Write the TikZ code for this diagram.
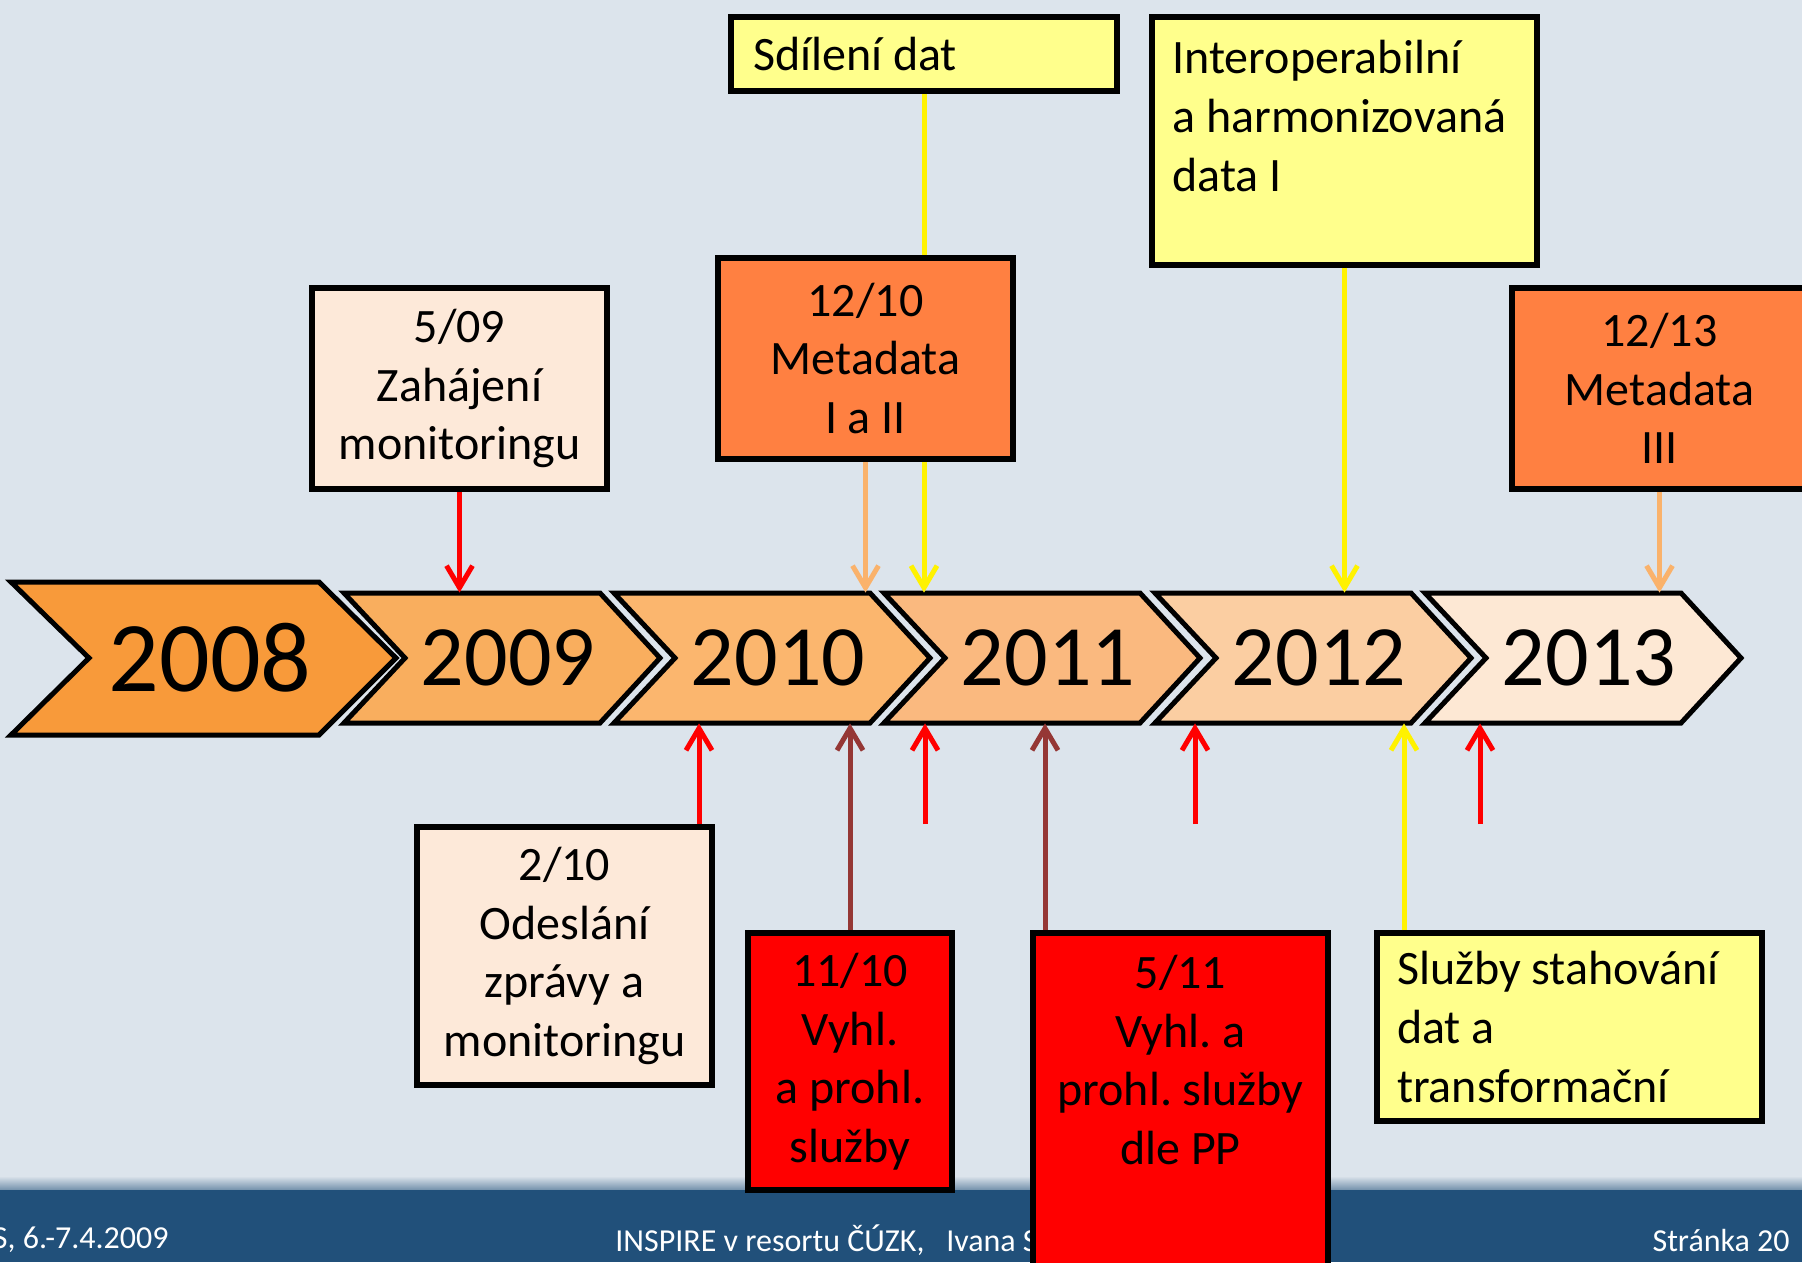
\documentclass[tikz,border=0pt]{standalone}
\usepackage{fontspec}
\setmainfont{Carlito}
\usetikzlibrary{arrows.meta,calc}
\frenchspacing
\definecolor{bgcol}{HTML}{DCE4EC}
\definecolor{bandcol}{HTML}{21507A}
\definecolor{ch08}{HTML}{F89A3A}
\definecolor{ch09}{HTML}{F9AE5E}
\definecolor{ch10}{HTML}{FBB66E}
\definecolor{ch11}{HTML}{FAB97F}
\definecolor{ch12}{HTML}{FBCEA2}
\definecolor{ch13}{HTML}{FDE8D4}
\definecolor{ylw}{HTML}{FFFF8C}
\definecolor{peach}{HTML}{FDE9D9}
\definecolor{orng}{HTML}{FF8041}
\definecolor{brwn}{HTML}{953735}
\definecolor{lorng}{HTML}{FAB26B}
\begin{document}
\begin{tikzpicture}[x=0.5pt,y=-0.5pt,
    chev/.style={draw,line width=2.5pt,line join=miter},
    yr/.style={inner sep=0pt,font=\fontsize{43}{50}\selectfont},
    box/.style={draw,line width=3pt,inner sep=0pt,align=center,font=\fontsize{24}{29.3}\selectfont,
        execute at begin node={\spaceskip=0pt\relax\xspaceskip=0pt\relax}},
    txt/.style={inner sep=0pt,align=left,font=\fontsize{24}{29.3}\selectfont,
        execute at begin node={\spaceskip=0pt\relax\xspaceskip=0pt\relax}},
    foot/.style={inner sep=0pt,text=white,font=\fontsize{16}{19}\selectfont},
    con/.style={line width=2.5pt,-{Straight Barb[length=11pt,width=13pt]}}]
    \useasboundingbox (0,0) rectangle (1802,1262);
    %% Background
    \fill[bgcol] (0,0) rectangle (1802,1187);
    \fill[bandcol] (0,1187) rectangle (1802,1262);
    \shade[top color=bgcol,bottom color=bandcol!60] (0,1176) rectangle (1802,1189);
    \node[foot,anchor=east] (fdate) at (169,1240) {S, 6.-7.4.2009};
    \node[foot,anchor=west] (ftitle) at (615,1240) {INSPIRE v resortu ČÚZK,\ \ \ Ivana S};
    \node[foot,anchor=east] (fpage) at (1790,1240) {Stránka 20};
    %% Years
    \draw[chev,fill=ch08] (11,582) -- ++(308,0) -- ++(77,76) -- ++(-77,77) -- ++(-308,0) -- ++(78,-77) -- cycle;
    \node[yr,font=\fontsize{50}{58}\selectfont] (y2008) at (210,658) {2008};
    \foreach \yy/\x/\col in {2009/344/ch09,2010/614/ch10,2011/884/ch11,2012/1155/ch12,2013/1425/ch13}{
        \draw[chev,fill=\col] (\x,593) -- ++(256,0) -- ++(60,65) -- ++(-60,65) -- ++(-256,0) -- ++(61,-65) -- cycle;
        \node[yr,minimum width=128pt,minimum height=65pt] (y\yy) at (\x+164,658) {\yy};
    }
    %% Boxes above
    \node[box,fill=ylw,minimum width=193pt,minimum height=37pt,text width=171pt,align=left] (sdil) at (924,54) {Sdílení dat};
    \draw[con,yellow] (sdil.south) -- (sdil.south |- y2011.north);
    \node[box,fill=ylw,minimum width=192.5pt,minimum height=124pt] (inter) at (1344.5,141) {};
    \node[txt,anchor=west] (tinter) at (1172,116) {Interoperabilní\\a harmonizovaná\\data I};
    \node[box,fill=peach,minimum width=147.5pt,minimum height=100.5pt] (b509) at (459.5,388.5) {5/09\\Zahájení\\monitoringu};
    \node[box,fill=orng,minimum width=147.5pt,minimum height=100.5pt] (b1210) at (865.5,358.5) {12/10\\Metadata\\I a II};
    \node[box,fill=orng,minimum width=147.5pt,minimum height=100.5pt] (b1213) at (1659.5,388.5) {12/13\\Metadata\\III};
    %% Boxes below
    \node[box,fill=peach,minimum width=147.5pt,minimum height=129pt] (b210) at (564.5,956) {2/10\\Odeslání\\zprávy a\\monitoringu};
    \node[box,fill=red,minimum width=102pt,minimum height=128.5pt] (b1110) at (850,1061.5) {11/10\\Vyhl.\\a prohl.\\služby};
    \node[box,fill=red,minimum width=147.5pt,minimum height=172pt] (b511) at (1180.5,1105) {};
    \node[txt,align=center] (t511) at (1180.5,1060) {5/11\\Vyhl. a\\prohl. služby\\dle PP};
    \node[box,fill=ylw,minimum width=192.5pt,minimum height=94pt,text width=172.5pt,align=left] (sluz) at (1569.5,1027) {Služby stahování\\dat a\\transformační};
    %% Arrows down
    \draw[con,red] (b509.south) -- (b509.south |- y2009.north);
    \draw[con,lorng] (b1210.south) -- (b1210.south |- y2010.north);
    \draw[con,yellow] (inter.south) -- (inter.south |- y2012.north);
    \draw[con,lorng] (b1213.south) -- (b1213.south |- y2013.north);
    %% Arrows up
    \coordinate (p210) at ($(b210.north east)+(-16,0)$);
    \coordinate (p511) at ($(b511.north west)+(15,0)$);
    \coordinate (psluz) at ($(sluz.north west)+(30,0)$);
    \coordinate (r11) at (925,824);
    \coordinate (r12) at (1195,824);
    \coordinate (r13) at (1480,824);
    \draw[con,red] (p210) -- (p210 |- y2010.south);
    \draw[con,brwn] (b1110.north) -- (b1110.north |- y2010.south);
    \draw[con,red] (r11) -- (r11 |- y2011.south);
    \draw[con,brwn] (p511) -- (p511 |- y2011.south);
    \draw[con,red] (r12) -- (r12 |- y2012.south);
    \draw[con,yellow] (psluz) -- (psluz |- y2012.south);
    \draw[con,red] (r13) -- (r13 |- y2013.south);
\end{tikzpicture}
\end{document}
